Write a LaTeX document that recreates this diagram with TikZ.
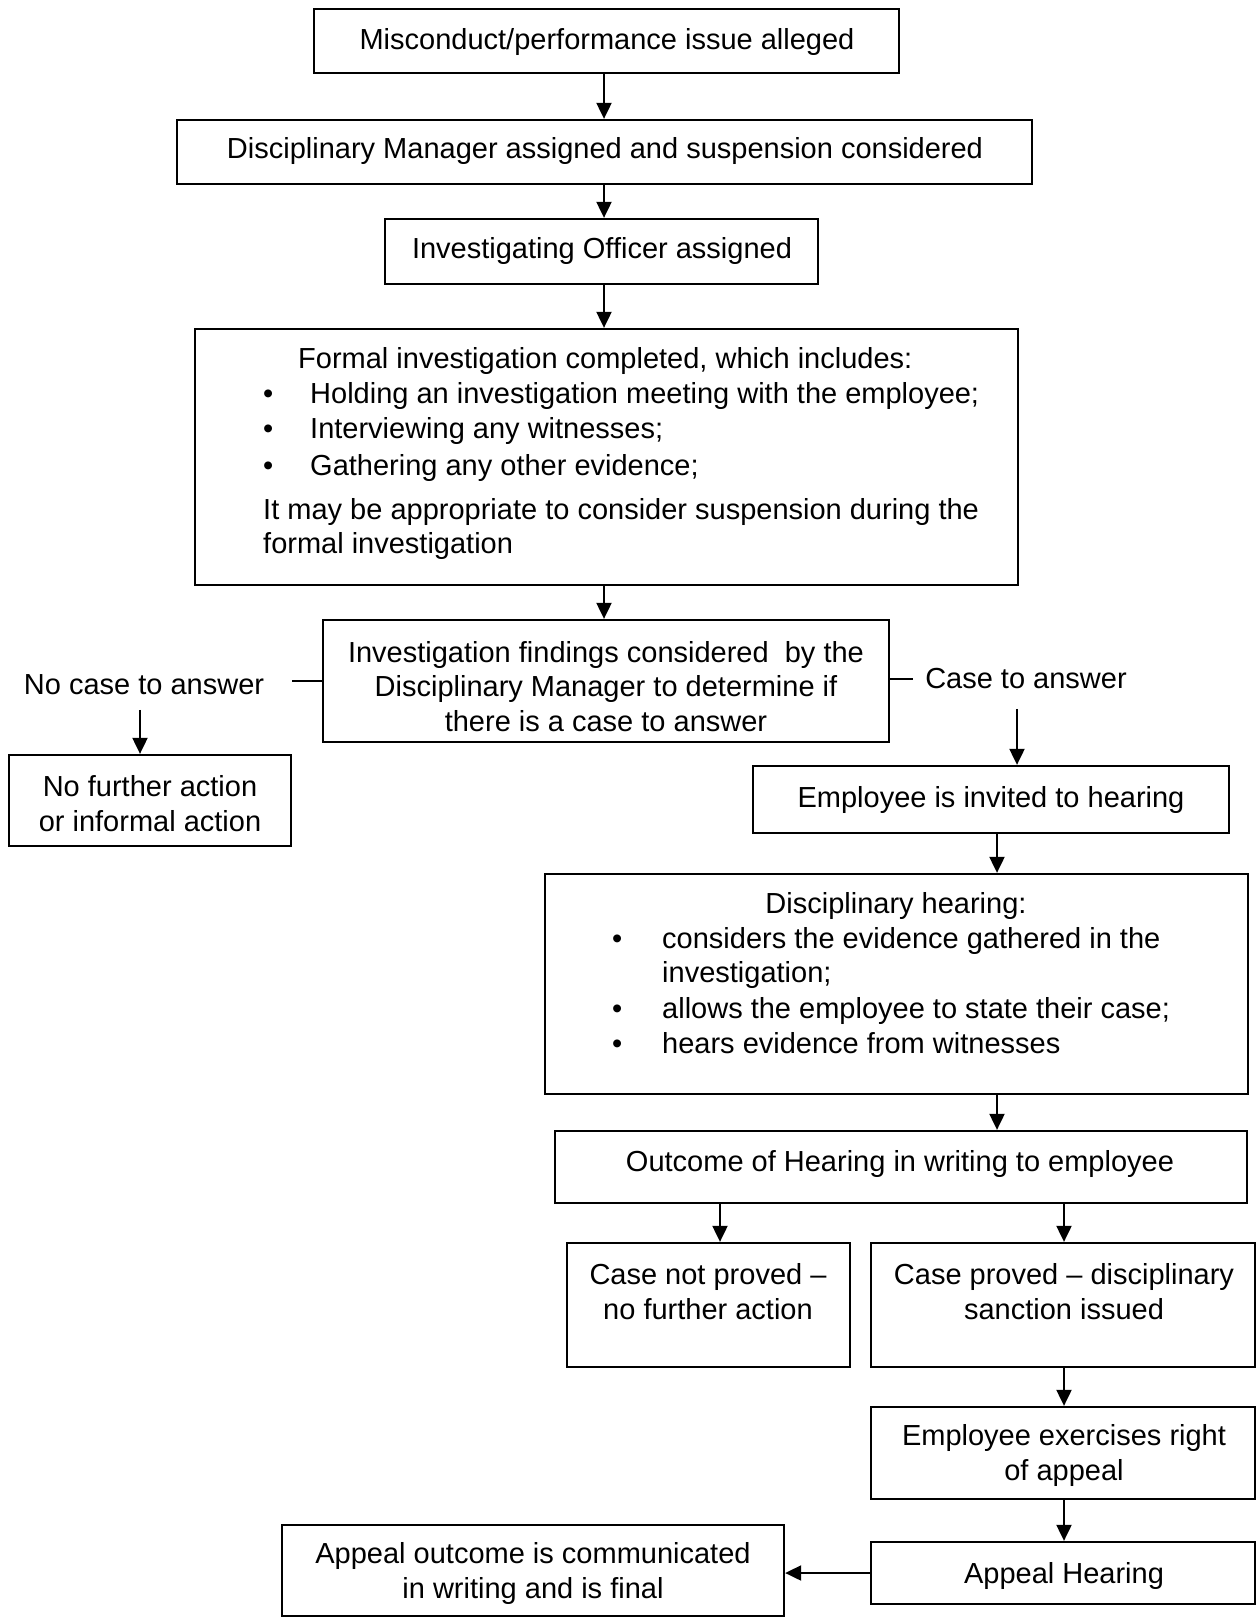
\documentclass[tikz,border=0pt]{standalone}
\usepackage{fontspec}
\setmainfont{Liberation Sans}
\usetikzlibrary{arrows.meta,calc,fit}
\begin{document}
\begin{tikzpicture}[x=1pt,y=-1pt,
  box/.style={draw, line width=2.3pt, inner sep=0pt},
  txt/.style={font=\fontsize{29}{34.5}\selectfont, inner sep=0pt, align=center, yshift=-2.5pt},
  ltxt/.style={font=\fontsize{29}{34.5}\selectfont, inner sep=0pt, anchor=west, text height=21pt, text depth=6pt, yshift=-2.5pt},
  arr/.style={line width=2pt, -{Triangle[length=16pt,width=15pt]}},
  ln/.style={line width=2pt}]
\useasboundingbox[fill=white] (0,0) rectangle (1257,1617);

% boxes
\node[box, fit={(314,9) (899,73)}] (b1) {};
\node[box, fit={(177,120) (1032,184)}] (b2) {};
\node[box, fit={(385,219) (818,284)}] (b3) {};
\node[box, fit={(195,329) (1018,585)}] (b4) {};
\node[box, fit={(323,620) (889,742)}] (b5) {};
\node[box, fit={(9,755) (291,846)}] (nfa) {};
\node[box, fit={(753,766) (1229,833)}] (ei) {};
\node[box, fit={(545,874) (1248,1094)}] (dh) {};
\node[box, fit={(555,1131) (1247,1203)}] (out) {};
\node[box, fit={(567,1243) (850,1367)}] (cnp) {};
\node[box, fit={(871,1243) (1255,1367)}] (cp) {};
\node[box, fit={(871,1407) (1255,1499)}] (ex) {};
\node[box, fit={(871,1542) (1255,1604)}] (ah) {};
\node[box, fit={(282,1525) (784,1616)}] (ao) {};

% texts
\node[txt] (t1) at (607,40) {Misconduct/performance issue alleged};
\node[txt] (t2) at (605,148) {Disciplinary Manager assigned and suspension considered};
\node[txt] (t3) at (602,248) {Investigating Officer assigned};

\node[ltxt] (t4a) at (298,358) {Formal investigation completed, which includes:};
\node[ltxt] (t4b1) at (263,393) {•};
\node[ltxt] (t4b) at (310,393) {Holding an investigation meeting with the employee;};
\node[ltxt] (t4c1) at (263,428) {•};
\node[ltxt] (t4c) at (310,428) {Interviewing any witnesses;};
\node[ltxt] (t4d1) at (263,465) {•};
\node[ltxt] (t4d) at (310,465) {Gathering any other evidence;};
\node[ltxt] (t4e) at (263,509) {It may be appropriate to consider suspension during the};
\node[ltxt] (t4f) at (263,543) {formal investigation};

\node[txt] (t5) at (606,684) {Investigation findings considered\ \ by the\\Disciplinary Manager to determine if\\there is a case to answer};

\node[txt] (nca) at (144,682) {No case to answer};
\node[txt] (ca) at (1026,676) {Case to answer};
\node[txt] (tnfa) at (150,801) {No further action\\or informal action};
\node[txt] (tei) at (991,797) {Employee is invited to hearing};

\node[txt] (tdh) at (896,903) {Disciplinary hearing:};
\node[ltxt] (tdh1b) at (612,938) {•};
\node[ltxt] (tdh1) at (662,938) {considers the evidence gathered in the};
\node[ltxt] (tdh2) at (662,972) {investigation;};
\node[ltxt] (tdh3b) at (612,1008) {•};
\node[ltxt] (tdh3) at (662,1008) {allows the employee to state their case;};
\node[ltxt] (tdh4b) at (612,1043) {•};
\node[ltxt] (tdh4) at (662,1043) {hears evidence from witnesses};

\node[txt] (tout) at (900,1161) {Outcome of Hearing in writing to employee};
\node[txt] (tcnp) at (708,1289) {Case not proved --\\no further action};
\node[txt] (tcp) at (1064,1289) {Case proved -- disciplinary\\sanction issued};
\node[txt] (tex) at (1064,1453) {Employee exercises right\\of appeal};
\node[txt] (tah) at (1064,1573) {Appeal Hearing};
\node[txt] (tao) at (533,1571) {Appeal outcome is communicated\\in writing and is final};

% connectors
\draw[arr] (b1.south -| 604,0) -- (b2.north -| 604,0);
\draw[arr] (b2.south -| 604,0) -- (b3.north -| 604,0);
\draw[arr] (b3.south -| 604,0) -- (b4.north -| 604,0);
\draw[arr] (b4.south -| 604,0) -- (b5.north -| 604,0);

\draw[ln] (b5.west) -- (b5.west -| 292,0);
\draw[arr] (nca.south -| 140,0) ++(0,15) -- (nfa.north -| 140,0);
\draw[ln] (b5.east |- ca.west) -- (ca.west -| 913,0);
\draw[arr] (ca.south -| 1017,0) ++(0,20) -- (ei.north -| 1017,0);

\draw[arr] (ei.south -| 997,0) -- (dh.north -| 997,0);
\draw[arr] (dh.south -| 997,0) -- (out.north -| 997,0);
\draw[arr] (out.south -| 720,0) -- (cnp.north -| 720,0);
\draw[arr] (out.south -| 1064,0) -- (cp.north -| 1064,0);
\draw[arr] (cp.south -| 1064,0) -- (ex.north -| 1064,0);
\draw[arr] (ex.south -| 1064,0) -- (ah.north -| 1064,0);
\draw[arr] (ah.west) -- (ah.west -| ao.east);
\end{tikzpicture}
\end{document}
